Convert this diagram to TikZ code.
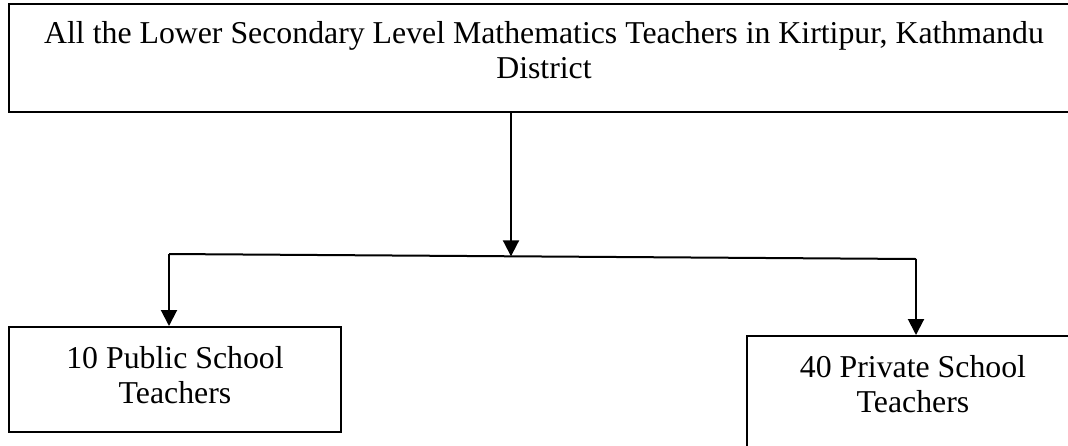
\documentclass[tikz,border=0pt]{standalone}
\usepackage{fontspec}
\setmainfont{Liberation Serif}
\usetikzlibrary{arrows.meta}
\begin{document}
\begin{tikzpicture}[x=1pt,y=-1pt,
  box/.style={draw,line width=2pt,inner sep=0pt,rectangle},
  txt/.style={anchor=north,inner sep=0pt,align=center,font=\fontsize{31.8}{35.5}\selectfont},
  conn/.style={line width=2pt},
  arr/.style={conn,-{Triangle[width=16pt,length=16pt]}}]
\useasboundingbox (0,0) rectangle (1068,445);
% boxes
\node[box,minimum width=1070pt,minimum height=108pt] (top) at (544,58) {};
\node[box,minimum width=332pt,minimum height=105pt] (lbox) at (175,379.5) {};
\node[box,minimum width=332pt,minimum height=112pt] (rbox) at (913,392) {};
% texts
\node[txt] (ttop) at (544,18.2) {\strut All the Lower Secondary Level Mathematics Teachers in Kirtipur, Kathmandu\\\strut District};
\node[txt] (tl) at (175,343.2) {\strut 10 Public School\\\strut Teachers};
\node[txt] (tr) at (913,352.2) {\strut 40 Private School\\\strut Teachers};
% connectors
\coordinate (jl) at (169,254);
\coordinate (jr) at (916,259);
\coordinate (jm) at (511,256.3);
\draw[conn] (jl) -- (jr);
\draw[arr] (top.south -| jm) -- (jm);
\draw[arr] (jl) -- (lbox.north -| jl);
\draw[arr] (jr) -- (rbox.north -| jr);
\end{tikzpicture}
\end{document}
